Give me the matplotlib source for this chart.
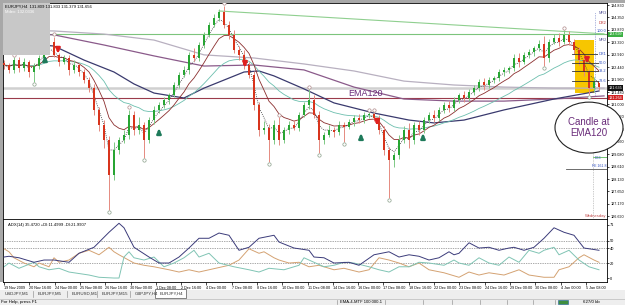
import numpy as np
import pandas as pd
import matplotlib
matplotlib.use("Agg")
import matplotlib.pyplot as plt
from matplotlib.patches import Rectangle, Ellipse

plt.rcParams['font.family'] = ['Liberation Sans', 'DejaVu Sans']

W, H = 625, 305

# ---- EURJPY H4 candles ----
first_open = 132.60
closes = [132.52, 132.33, 132.71, 132.40, 132.64, 132.25, 132.48, 132.79, 133.17, 133.41,
          132.91, 132.64, 132.79, 132.33, 132.52, 132.25, 131.94, 131.63, 130.79, 130.21,
          129.63, 128.29, 129.25, 129.63, 129.83, 130.60, 130.02, 130.21, 129.63, 130.40,
          130.79, 130.98, 131.17, 131.37, 131.75, 132.14, 132.33, 132.91, 132.79, 133.29,
          133.68, 134.06, 134.33, 134.56, 134.06, 133.68, 133.10, 132.91, 132.52, 132.14,
          130.98, 130.02, 130.10, 129.63, 130.21, 129.63, 130.02, 130.21, 130.10, 130.60,
          130.98, 131.17, 130.60, 129.63, 129.83, 130.02, 129.94, 130.21, 130.15, 130.33,
          130.48, 130.40, 130.60, 130.63, 130.48, 130.02, 129.25, 128.86, 129.06, 129.63,
          130.02, 129.63, 130.21, 130.02, 130.40, 130.60, 130.48, 130.79, 130.98, 130.86,
          131.17, 131.37, 131.25, 131.48, 131.63, 131.87, 131.75, 131.94, 132.02, 132.25,
          132.33, 132.40, 132.79, 132.64, 132.91, 133.02, 133.17, 133.33, 132.79, 133.41,
          133.56, 133.41, 133.68, 133.41, 133.10, 132.71, 132.25, 131.63, 131.87, 131.66]
wick_up = [.10, .08, .12, .10, .15, .06, .12, .10, .15, .15, .20, .08, .12, .10, .18, .08, .10, .12, .15, .10,
           .20, .15, .30, .12, .20, .20, .15, .30, .12, .10, .15, .10, .12, .08, .10, .12, .15, .10, .25, .10,
           .12, .10, .15, .10, .25, .15, .20, .15, .20, .12, .15, .10, .25, .15, .20, .30, .12, .15, .20, .10,
           .12, .43, .20, .15, .10, .20, .12, .15, .10, .12, .10, .15, .10, .08, .08, .10, .15, .12, .10, .20,
           .15, .25, .12, .15, .10, .12, .20, .10, .12, .15, .10, .08, .15, .10, .12, .10, .15, .12, .08, .10,
           .12, .10, .15, .20, .10, .12, .10, .15, .30, .10, .15, .20, .19, .15, .12, .10, .15, .10, .20, .10]
wick_dn = [.15, .12, .10, .15, .10, .20, .38, .10, .12, .15, .10, .15, .10, .20, .12, .15, .10, .15, .20, .25,
           .30, 1.35, .20, .15, .10, .15, .20, .15, .69, .10, .15, .12, .10, .15, .10, .12, .10, .15, .12, .10,
           .12, .10, .08, .10, .12, .15, .10, .20, .15, .12, .20, .25, .15, .84, .15, .20, .12, .15, .10, .12,
           .10, .15, .12, .50, .15, .10, .20, .12, .60, .10, .15, .12, .10, .12, .10, .15, .20, 1.46, .25, .15,
           .12, .30, .15, .20, .12, .10, .15, .12, .10, .15, .12, .10, .15, .10, .12, .10, .20, .10, .12, .10,
           .15, .12, .10, .20, .10, .12, .15, .10, .30, .15, .10, .15, .10, .12, .15, .20, .15, .25, .15, .10]

# slow moving averages (sampled along the curves)
light_x = [0, 10, 20, 30, 40, 50, 60, 70, 80, 90, 100, 110, 120]
light_y = [133.87, 133.83, 133.71, 133.48, 132.91, 132.79, 132.56, 132.29, 131.90, 131.75, 131.67, 131.63, 131.63]
ema120_x = [0, 10, 20, 30, 40, 50, 60, 70, 80, 90, 100, 110, 120]
ema120_y = [133.75, 133.68, 133.29, 132.87, 132.48, 132.52, 132.33, 131.67, 131.21, 131.13, 131.13, 131.21, 131.33]
navy_x = [0, 10, 16, 22, 26, 30, 36, 40, 44, 48, 51, 54, 60, 66, 74, 81, 86, 92, 100, 110, 119]
navy_y = [133.41, 133.25, 132.71, 132.25, 131.79, 131.44, 131.25, 131.63, 131.94, 132.25, 132.29, 132.10,
          131.60, 131.06, 130.67, 130.40, 130.29, 130.40, 130.79, 131.21, 131.52]

trend_x = [43, 120]
trend_y = [134.60, 133.72]
green_level = 133.699
bid_level = 131.635
red_level = 131.264

price_ticks = [134.830, 134.350, 133.870, 133.390, 132.910, 132.440, 131.960, 131.480, 131.000,
               130.520, 130.040, 129.560, 129.080, 128.610, 128.130, 127.650, 127.170, 126.690]

sell_x = [10.8, 48.2, 74.6, 116.6]
sell_tip = [132.87, 132.33, 130.10, 132.48]
buy_x = [8.2, 31.0, 71.4, 83.8]
buy_tip = [132.98, 130.17, 129.98, 129.98]

pivot_names = ["MR3", "DR2", "100.0", "MR2", "DR1", "50.0", "38.2", "23.6"]
pivot_prices = [134.52, 134.14, 133.83, 133.48, 132.94, 132.60, 132.29, 131.90]
pivot_cols = ['#5a5a9a', '#c03030', '#3050c0', '#5a5a9a', '#3050c0', '#3050c0', '#3050c0', '#3050c0']
fib_levels = [132.94, 132.60, 132.29, 131.90]

# ---- ADX(14) ----
adx_x = [0, 1, 3, 6, 8, 10, 13, 15, 18, 21, 23, 24, 26, 29, 31, 33, 35, 37, 39, 41, 43, 45, 47, 49, 51, 54,
         55, 58, 61, 62, 64, 66, 69, 71, 74, 77, 79, 81, 83, 85, 87, 89, 90, 91, 93, 95, 97, 99, 101, 102,
         104, 106, 108, 110, 112, 114, 116, 119]
adx_v = [28, 29, 27, 21, 24, 24, 21, 33, 41, 61, 73, 67, 41, 28, 20, 20, 28, 40, 53, 53, 60, 57, 37, 41, 53, 57,
         48, 40, 37, 28, 27, 20, 21, 17, 31, 35, 28, 31, 29, 24, 27, 35, 31, 33, 47, 40, 41, 37, 40, 41,
         37, 41, 53, 67, 61, 57, 40, 37]
mdi_x = [0, 1, 2, 4, 6, 7, 9, 10, 11, 13, 15, 17, 19, 21, 22, 23, 26, 28, 30, 33, 35, 37, 39, 41, 45, 47, 49,
         51, 52, 54, 55, 57, 59, 61, 63, 66, 68, 71, 73, 75, 77, 79, 81, 83, 85, 88, 91, 93, 95, 97, 100, 103,
         105, 108, 110, 111, 113, 115, 116, 118, 119]
mdi_v = [39, 35, 27, 20, 15, 20, 15, 27, 21, 24, 33, 37, 31, 41, 35, 31, 20, 17, 15, 11, 8, 11, 8, 11, 17, 24, 39,
         33, 35, 27, 24, 20, 21, 15, 17, 11, 13, 8, 11, 27, 24, 20, 15, 20, 11, 7, 1, 8, 4, 7, 4, 11,
         4, 1, 1, 11, 15, 27, 31, 24, 21]
pdi_x = [0, 1, 3, 6, 7, 9, 11, 13, 17, 19, 22, 23, 24, 25, 26, 28, 30, 32, 34, 36, 38, 39, 41, 43, 46, 49, 51,
         53, 56, 59, 60, 62, 64, 66, 68, 70, 73, 75, 77, 79, 81, 83, 85, 88, 90, 91, 93, 95, 97, 99, 101, 103,
         105, 107, 108, 110, 111, 113, 115, 117, 119]
pdi_v = [15, 20, 13, 21, 15, 11, 13, 8, 4, 1, 0, 0, 28, 35, 27, 24, 28, 15, 20, 27, 37, 28, 33, 20, 15, 11, 8,
         13, 11, 17, 27, 21, 15, 17, 21, 20, 15, 11, 8, 15, 15, 21, 20, 17, 24, 20, 17, 27, 20, 17, 28, 21,
         37, 33, 37, 41, 31, 37, 24, 15, 11]

date_labels = ["19 Nov 2009", "20 Nov 16:00", "24 Nov 00:00", "25 Nov 08:00", "26 Nov 16:00", "30 Nov 00:00",
               "1 Dec 08:00", "2 Dec 16:00", "4 Dec 00:00", "7 Dec 08:00", "8 Dec 16:00", "10 Dec 00:00",
               "11 Dec 08:00", "14 Dec 16:00", "16 Dec 00:00", "17 Dec 08:00", "18 Dec 16:00", "22 Dec 00:00",
               "23 Dec 08:00", "24 Dec 16:00", "29 Dec 00:00", "30 Dec 08:00", "4 Jan 00:00", "5 Jan 08:00"]

tab_names = ["USDJPY,M1", "EURJPY,M5", "EURUSD,M1", "EURJPY,M15", "GBPJPY,H4", "EURJPY,H4"]

# ------------------------------------------------------------------
fig = plt.figure(figsize=(W / 100, H / 100), dpi=100)
fig.patch.set_facecolor('white')

def fx(px):
    return px / W

def fy(py):
    return 1 - py / H

ax = fig.add_axes([fx(3), fy(219), 604 / W, 216 / H])
ax2 = fig.add_axes([fx(3), fy(282), 604 / W, 63 / H])

c = np.array(closes)
n = len(c)
bars = np.arange(n)
opens = np.r_[first_open, c[:-1]]
top = np.maximum(opens, c)
bot = np.minimum(opens, c)
highs = top + np.array(wick_up)
lows = bot - np.array(wick_dn)
up = c >= opens

ax.set_xlim(-0.2, 120.6)
ax.set_ylim(126.591, 134.907)

# horizontal levels and trendline
ax.axhline(green_level, color='#7cc47c', lw=0.8, zorder=1)
ax.axhline(bid_level, color='#d0d0d0', lw=1.8, zorder=1)
ax.axhline(red_level, color='#9b3b4b', lw=0.8, zorder=1)
ax.plot(trend_x, trend_y, color='#8fcf8f', lw=0.8, zorder=1)

# yellow highlight
ax.add_patch(Rectangle((114.2, 131.44), 3.8, 2.04, fc='#f7c600', ec='none', zorder=1.5))

# slow MAs
ax.plot(light_x, light_y, color='#b8b0c0', lw=0.9, zorder=2)
ax.plot(ema120_x, ema120_y, color='#8a5a8a', lw=0.9, zorder=2)
ax.plot(navy_x, navy_y, color='#3a3a6e', lw=0.9, zorder=2)

# fast MAs from the closes
s = pd.Series(c)
ax.plot(bars, s.ewm(span=21, adjust=False).mean(), color='#6cbfae', lw=0.6, zorder=2)
ax.plot(bars, s.ewm(span=8, adjust=False).mean(), color='#8b2e2e', lw=0.6, zorder=2)
ax.plot(bars, s.ewm(span=3, adjust=False).mean(), color='#333333', lw=0.6, ls=(0, (1, 1.5)), zorder=2)

# candles
ax.vlines(bars, lows, highs, colors=np.where(up, '#7fc985', '#e58a80'), lw=0.7, zorder=3)
ax.bar(bars, np.maximum(top - bot, 0.025), bottom=bot, width=0.55,
       color=np.where(up, '#27a533', '#d8341c'), linewidth=0, zorder=4)

# fractals
fr_hi = [i for i in range(2, n - 2) if highs[i] == max(highs[i - 2:i + 3])]
fr_lo = [i for i in range(2, n - 2) if lows[i] == min(lows[i - 2:i + 3])]
ax.plot(fr_hi, highs[fr_hi] + 0.09, 'o', ms=2.4, mfc='white', mec='#b08a8a', mew=0.5, zorder=5)
ax.plot(fr_lo, lows[fr_lo] - 0.09, 'o', ms=2.4, mfc='white', mec='#8aa08a', mew=0.5, zorder=5)

# signal arrows
for xa, ya in zip(sell_x, sell_tip):
    ax.annotate('', xy=(xa, ya), xytext=(xa, ya + 0.34),
                arrowprops=dict(arrowstyle='-|>', color='#e02020', lw=1.8, mutation_scale=6), zorder=6)
for xa, ya in zip(buy_x, buy_tip):
    ax.annotate('', xy=(xa, ya), xytext=(xa, ya - 0.34),
                arrowprops=dict(arrowstyle='-|>', color='#1e7a5a', lw=1.8, mutation_scale=6), zorder=6)

# fib / pivot stuff on the right
for lv in fib_levels:
    ax.plot([113.6, 120.6], [lv, lv], color='#333333', lw=0.6, zorder=5)
for name, pr, col in zip(pivot_names, pivot_prices, pivot_cols):
    ax.text(120.5, pr, name, fontsize=2.8, color=col, ha='right', va='center', zorder=7,
            bbox=dict(fc='white', ec='none', pad=0.2))
ax.plot([118.2, 118.2], [131.35, 134.55], color='#6070c0', lw=0.5, ls=(0, (1, 1.5)), zorder=5)
ax.plot([117.8, 117.8], [126.6, 129.3], color='#999999', lw=0.5, ls=(0, (1, 1.5)), zorder=5)
ax.plot([112.4, 120.6], [128.51, 128.51], color='#555555', lw=0.6, zorder=5)
ax.plot([117.8, 120.6], [128.98, 128.98], color='#5cb85c', lw=0.6, zorder=5)
ax.text(118.2, 128.85, "D53", fontsize=2.6, color='#3050c0', va='bottom', zorder=7)
ax.text(120.5, 128.56, "FE 161.8", fontsize=2.6, color='#3050c0', ha='right', va='bottom', zorder=7)
ax.text(120.4, 126.62, "Wednesday", fontsize=3.0, color='#c04848', ha='right', va='bottom', zorder=7)

ax.text(68.8, 131.42, "EMA120", fontsize=6.5, color='#6a2c7a', va='center', zorder=7)

# callout
ax.add_patch(Ellipse((117.0, 130.11), 13.6, 1.96, fc='white', ec='#222222', lw=0.8,
                     zorder=10, clip_on=False))
ax.text(117.0, 130.11, "Candle at\nEMA120", fontsize=7, color='#6a2c7a', ha='center', va='center',
        linespacing=1.1, zorder=11, clip_on=False)

# price axis
ax.yaxis.tick_right()
ax.set_yticks(price_ticks)
ax.set_yticklabels(["%.3f" % p for p in price_ticks])
ax.tick_params(axis='y', labelsize=2.7, length=1.5, width=0.5, pad=0.8)
ax.set_xticks([])
for sp in ax.spines.values():
    sp.set_linewidth(0.6)
tr = ax.get_yaxis_transform()
for pr, txt, bg in [(green_level, "133.699", '#3cb043'), (bid_level, "131.635", '#111111'),
                    (red_level, "131.264", '#d02020')]:
    ax.text(1.003, pr, txt, transform=tr, fontsize=2.7, color='white', va='center', ha='left',
            bbox=dict(fc=bg, ec='none', pad=0.5), zorder=12, clip_on=False)

# ---- ADX panel ----
ax2.set_xlim(-0.2, 120.6)
ax2.set_ylim(-5.3, 78.7)
for lv in [50, 40, 20]:
    ax2.axhline(lv, color='#555555', lw=0.5, ls=(0, (1, 1.5)), zorder=1)
ax2.plot(adx_x, adx_v, color='#3b3b7a', lw=0.7, zorder=3)
ax2.plot(mdi_x, mdi_v, color='#d4a272', lw=0.7, zorder=2)
ax2.plot(pdi_x, pdi_v, color='#80c4b4', lw=0.7, zorder=2)
ax2.text(0.008, 0.93, "ADX(14) 35.4720 +DI:11.4999 -DI:21.9907", transform=ax2.transAxes,
         fontsize=3.0, va='top')
ax2.yaxis.tick_right()
ax2.set_yticks([0, 20, 40, 50, 71])
ax2.tick_params(axis='y', labelsize=2.8, length=1.5, width=0.5, pad=0.8)
ax2.set_xticks([k * 5.06 for k in range(len(date_labels))])
ax2.set_xticklabels(date_labels, ha='left')
ax2.tick_params(axis='x', labelsize=2.7, length=2, width=0.5, pad=0.8)
for sp in ax2.spines.values():
    sp.set_linewidth(0.6)

# ---- window chrome ----
fig.add_artist(Rectangle((0, fy(3)), fx(625), 3 / H, transform=fig.transFigure, fc='#a8a8a8', ec='none'))
fig.add_artist(Rectangle((0, fy(282)), fx(3), 282 / H, transform=fig.transFigure, fc='#a8a8a8', ec='none'))
fig.add_artist(Rectangle((fx(3), fy(55)), 47 / W, 52 / H, transform=fig.transFigure,
                         fc='#c8c8c8', ec='none', zorder=5))
fig.text(fx(5), fy(6.5), "EURJPY,H4  131.809 131.833 131.379 131.656", fontsize=3.0, va='center', zorder=6)
fig.text(fx(5), fy(12), "Mdev: 132.0336", fontsize=3.0, va='center', color='white', zorder=6)

fig.add_artist(Rectangle((0, 0), 1, 15 / H, transform=fig.transFigure, fc='#eeeeee', ec='none'))
fig.add_artist(Rectangle((fx(155), fy(298)), 31 / W, 9 / H, transform=fig.transFigure,
                         fc='white', ec='#555555', lw=0.5, zorder=3))
tab_x = [5, 38, 72, 102, 135, 160]
for name, tx in zip(tab_names, tab_x):
    fig.text(fx(tx), fy(294), name, fontsize=3.2, va='center', color='#333333', zorder=4)
for sx in [33, 67, 97, 130]:
    fig.add_artist(plt.Line2D([fx(sx), fx(sx)], [fy(297), fy(291)], transform=fig.transFigure,
                              color='#999999', lw=0.5))
fig.add_artist(plt.Line2D([0, 1], [fy(298.5), fy(298.5)], transform=fig.transFigure, color='#bbbbbb', lw=0.5))
fig.text(fx(1), fy(302), "For Help, press F1", fontsize=3.2, va='center')
fig.text(fx(340), fy(302), "EMA-4-MTF 100 000-1", fontsize=3.0, va='center')
for sx in [337, 385, 423, 452, 480, 507, 533, 555]:
    fig.add_artist(plt.Line2D([fx(sx), fx(sx)], [fy(304), fy(299.5)], transform=fig.transFigure,
                              color='#999999', lw=0.5))
fig.add_artist(Rectangle((fx(558), fy(304)), 10 / W, 4 / H, transform=fig.transFigure,
                         fc='#3f8f3f', ec='#2060a0', lw=0.4))
fig.text(fx(583), fy(302), "627/0 kb", fontsize=3.2, va='center')

fig.savefig("out.png", dpi=100, facecolor=fig.get_facecolor())
